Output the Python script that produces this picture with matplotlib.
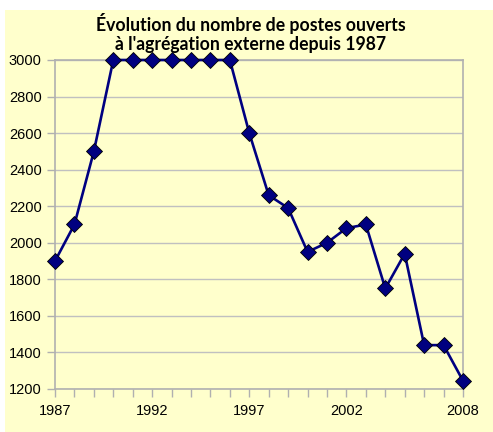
import matplotlib
matplotlib.use("Agg")
import matplotlib.pyplot as plt
from matplotlib.patches import Rectangle

years = list(range(1987, 2009))
postes = [1900, 2100, 2500, 3000, 3000, 3000, 3000, 3000, 3000, 3000,
          2600, 2260, 2190, 1950, 2000, 2080, 2100, 1750, 1940, 1440, 1440, 1245]
xtick_labels = [1987, 1992, 1997, 2002, 2008]
yticks = list(range(1200, 3001, 200))
title = "Évolution du nombre de postes ouverts\nà l'agrégation externe depuis 1987"

bg = "#FFFFCC"
fig = plt.figure(figsize=(4.93, 4.32), dpi=100, facecolor="white")
fig.patches.append(Rectangle((5/493, 0), 1 - 5/493, 1 - 10/432, transform=fig.transFigure,
                             facecolor=bg, edgecolor="none", zorder=-10))
ax = fig.add_axes([55/493, 43/432, 408/493, 329/432])
ax.set_facecolor(bg)

ax.plot(years, postes, color="#000080", lw=1.9, marker="D", markersize=8,
        markerfacecolor="#000080", markeredgecolor="black", markeredgewidth=0.6,
        clip_on=False, zorder=5)

ax.set_xlim(1987, 2008)
ax.set_ylim(1200, 3000)
ax.set_yticks(yticks)
ax.set_yticklabels([str(v) for v in yticks], fontsize=10.5, family="Liberation Sans")
ax.set_xticks(years)
ax.set_xticklabels([str(y) if y in xtick_labels else "" for y in years],
                   fontsize=10.5, family="Liberation Sans")
ax.grid(axis="y", color="#C0C0C0", lw=1)
ax.set_axisbelow(True)
for s in ax.spines.values():
    s.set_color("#B0B0B0")
    s.set_linewidth(1.2)
ax.tick_params(axis="both", colors="#B0B0B0", labelcolor="black", length=6, width=1)
ax.tick_params(axis="x", pad=5)

fig.text(251/493, 1 - 33/432, title, ha="center", va="center", fontsize=12.7,
         fontweight="bold", family="Lato", linespacing=1.15)

fig.savefig("out.png", dpi=100, facecolor="white")
